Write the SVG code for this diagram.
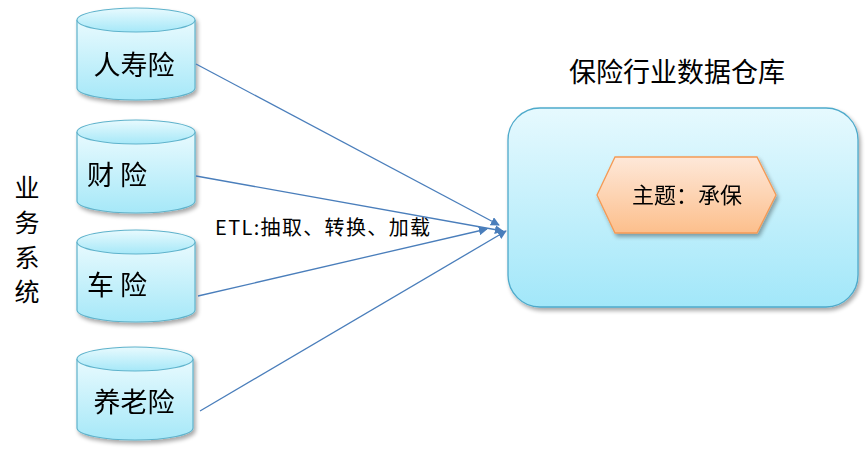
<svg xmlns="http://www.w3.org/2000/svg" width="865" height="457" viewBox="0 0 865 457">
  <defs>
    <linearGradient id="cylFill" x1="0" y1="0" x2="0" y2="1">
      <stop offset="0" stop-color="#e8fafe"/>
      <stop offset="1" stop-color="#a6e8f8"/>
    </linearGradient>
    <linearGradient id="boxFill" x1="0" y1="0" x2="0" y2="1">
      <stop offset="0" stop-color="#e6f9fe"/>
      <stop offset="1" stop-color="#a2e7f9"/>
    </linearGradient>
    <linearGradient id="hexFill" x1="0" y1="0" x2="0" y2="1">
      <stop offset="0" stop-color="#fee8d9"/>
      <stop offset="1" stop-color="#fcbf8c"/>
    </linearGradient>
    <filter id="shadow" x="-10%" y="-10%" width="125%" height="125%">
      <feGaussianBlur in="SourceAlpha" stdDeviation="2"/>
      <feOffset dx="2" dy="3" result="b"/>
      <feComponentTransfer><feFuncA type="linear" slope="0.35"/></feComponentTransfer>
      <feMerge><feMergeNode/><feMergeNode in="SourceGraphic"/></feMerge>
    </filter>
    <marker id="arrow" viewBox="0 0 10 10" refX="9" refY="5" markerWidth="9" markerHeight="9" markerUnits="userSpaceOnUse" orient="auto">
      <path d="M0,0 L10,5 L0,10 z" fill="#4a7ebb"/>
    </marker>
  </defs>
  <style>
    .cyl { fill: url(#cylFill); stroke: #5fb3cc; stroke-width: 1.2; }
    .cap { fill: url(#cylFill); stroke: #5fb3cc; stroke-width: 1.2; }
    .lbl { font-family: "Noto Sans CJK SC", "Liberation Sans", sans-serif; fill: #000; }
    .conn { stroke: #4a7ebb; stroke-width: 1.3; fill: none; marker-end: url(#arrow); }
  </style>

  <!-- side label -->
  <g id="side-label" class="lbl" font-size="25" text-anchor="middle">
    <text x="27" y="197">业</text>
    <text x="27" y="232">务</text>
    <text x="27" y="267">系</text>
    <text x="27" y="301">统</text>
  </g>

  <!-- source systems -->
  <g id="src-life" filter="url(#shadow)">
    <path class="cyl" d="M77,20 V88 A59,12 0 0 0 195,88 V20"/>
    <ellipse class="cap" cx="136" cy="20" rx="59" ry="12"/>
    <text class="lbl" x="134" y="75" font-size="27" text-anchor="middle">人寿险</text>
  </g>
  <g id="src-property" filter="url(#shadow)">
    <path class="cyl" d="M77,132 V201 A59,12 0 0 0 195,201 V132"/>
    <ellipse class="cap" cx="136" cy="132" rx="59" ry="12"/>
    <text class="lbl" x="117" y="185" font-size="27" text-anchor="middle">财 险</text>
  </g>
  <g id="src-auto" filter="url(#shadow)">
    <path class="cyl" d="M77,242 V310 A59,12 0 0 0 195,310 V242"/>
    <ellipse class="cap" cx="136" cy="242" rx="59" ry="12"/>
    <text class="lbl" x="117" y="295" font-size="27" text-anchor="middle">车 险</text>
  </g>
  <g id="src-pension" filter="url(#shadow)">
    <path class="cyl" d="M77,359 V428 A58,12 0 0 0 193,428 V359"/>
    <ellipse class="cap" cx="135" cy="359" rx="58" ry="12"/>
    <text class="lbl" x="134" y="412" font-size="27" text-anchor="middle">养老险</text>
  </g>

  <!-- warehouse -->
  <g id="warehouse">
    <text class="lbl" x="677" y="82" font-size="27" text-anchor="middle">保险行业数据仓库</text>
    <rect x="508" y="108" width="350" height="199" rx="32" ry="32" fill="url(#boxFill)" stroke="#4eaacb" stroke-width="1.3" filter="url(#shadow)"/>
  </g>
  <g id="topic" filter="url(#shadow)">
    <polygon points="597,195 615,157 757,157 776,195 757,233 615,233" fill="url(#hexFill)" stroke="#f59a55" stroke-width="1.3"/>
    <text class="lbl" x="687" y="203" font-size="22" text-anchor="middle">主题：承保</text>
  </g>

  <!-- connectors -->
  <g id="connectors">
    <line class="conn" x1="196" y1="64" x2="499" y2="225"/>
    <line class="conn" x1="196" y1="176" x2="503" y2="231"/>
    <line class="conn" x1="198" y1="296" x2="487" y2="229"/>
    <line class="conn" x1="200" y1="411" x2="506" y2="231"/>
  </g>
  <text id="etl-label" class="lbl" x="215" y="235" font-size="20" textLength="215" lengthAdjust="spacing">ETL:抽取、转换、加载</text>
</svg>
